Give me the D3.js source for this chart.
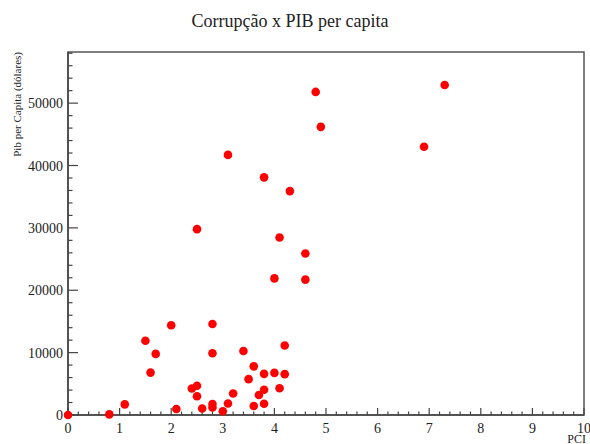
<!DOCTYPE html>
<html>
<head>
<meta charset="utf-8">
<script src="https://cdn.jsdelivr.net/npm/d3@7"></script>
<style>
  body { margin: 0; background: #fff; }
  text { font-family: "Liberation Serif", "DejaVu Serif", serif; fill: #222; }
</style>
</head>
<body>
<div id="chart"></div>
<script>
var width = 590,
    height = 444;

// PCI (indice de corrupcao) x PIB per capita
var pci = [0, 0.8, 1.1, 1.5, 1.7, 1.6, 2.0, 2.1, 2.4, 2.5, 2.5, 2.6, 2.8, 2.8, 2.8, 2.8,
           3.0, 3.1, 3.2, 3.4, 3.5, 3.6, 3.6, 3.7, 3.8, 3.8, 3.8, 4.0, 4.1, 4.2, 4.2,
           4.0, 4.6, 4.8, 4.9, 7.3, 6.9, 3.1, 3.8, 4.3, 2.5, 4.1, 4.6];
var pib = [0, 100, 1700, 11900, 9800, 6800, 14400, 950, 4250, 4700, 3000, 1050, 14600, 9900, 1750, 1200,
           600, 1850, 3450, 10250, 5750, 7800, 1450, 3200, 6600, 4050, 1800, 6750, 4300, 11150, 6550,
           21900, 21700, 51800, 46200, 52900, 43000, 41700, 38100, 35900, 29800, 28450, 25900];

var xTicks = [0, 1, 2, 3, 4, 5, 6, 7, 8, 9, 10];
var yTicks = [0, 10000, 20000, 30000, 40000, 50000];

// note: "top" is taken by window.top, so frame edges get their own names
var fLeft = 68, fRight = 584, fTop = 52, fBottom = 415;

var x = d3.scaleLinear().domain([0, 10]).range([fLeft, fRight]);
var y = d3.scaleLinear().domain([0, 58200]).range([fBottom, fTop]);

var svg = d3.select('#chart').append('svg')
    .attr('width', width)
    .attr('height', height);

// frame
svg.append('rect')
    .attr('x', fLeft).attr('y', fTop)
    .attr('width', fRight - fLeft).attr('height', fBottom - fTop)
    .attr('fill', 'none')
    .attr('stroke', '#555')
    .attr('stroke-width', 1.5);

// x axis, ticks inside
var xMinor = d3.range(0, 10.001, 0.2);
svg.append('g').selectAll('line').data(xMinor).join('line')
    .attr('x1', d => x(d)).attr('x2', d => x(d))
    .attr('y1', fBottom)
    .attr('y2', (d, i) => i % 5 === 0 ? fBottom - 7 : fBottom - 3.5)
    .attr('stroke', '#444').attr('stroke-width', 1.2);
svg.append('line')
    .attr('x1', fLeft).attr('x2', fRight).attr('y1', fBottom).attr('y2', fBottom)
    .attr('stroke', '#444').attr('stroke-width', 1.5);
svg.append('g').selectAll('text').data(xTicks).join('text')
    .attr('x', d => x(d)).attr('y', fBottom + 18)
    .attr('text-anchor', 'middle')
    .style('font-size', '14px')
    .text(d => d);

// y axis
var yMinor = d3.range(0, 58001, 2000);
svg.append('g').selectAll('line').data(yMinor).join('line')
    .attr('x1', fLeft)
    .attr('x2', (d, i) => i % 5 === 0 ? fLeft + 10 : fLeft + 4.5)
    .attr('y1', d => y(d)).attr('y2', d => y(d))
    .attr('stroke', '#444').attr('stroke-width', 1.2);
svg.append('line')
    .attr('x1', fLeft).attr('x2', fLeft).attr('y1', fTop).attr('y2', fBottom)
    .attr('stroke', '#444').attr('stroke-width', 1.5);
svg.append('g').selectAll('text').data(yTicks).join('text')
    .attr('x', fLeft - 5).attr('y', d => y(d) + 5)
    .attr('text-anchor', 'end')
    .style('font-size', '14px')
    .text(d => d);

// titles
svg.append('text')
    .attr('x', 290).attr('y', 27)
    .attr('text-anchor', 'middle')
    .style('font-size', '18px')
    .text('Corrupção x PIB per capita');

svg.append('text')
    .attr('x', fRight + 2).attr('y', 443)
    .attr('text-anchor', 'end')
    .style('font-size', '12px')
    .text('PCI');

svg.append('text')
    .attr('transform', 'translate(21,' + fTop + ') rotate(-90)')
    .attr('text-anchor', 'end')
    .style('font-size', '11px')
    .text('Pib per Capita (dólares)');

// points
svg.append('g').selectAll('circle').data(pci).join('circle')
    .attr('cx', d => x(d))
    .attr('cy', (d, i) => y(pib[i]))
    .attr('r', 4.3)
    .attr('fill', '#ff0000');
</script>
</body>
</html>
